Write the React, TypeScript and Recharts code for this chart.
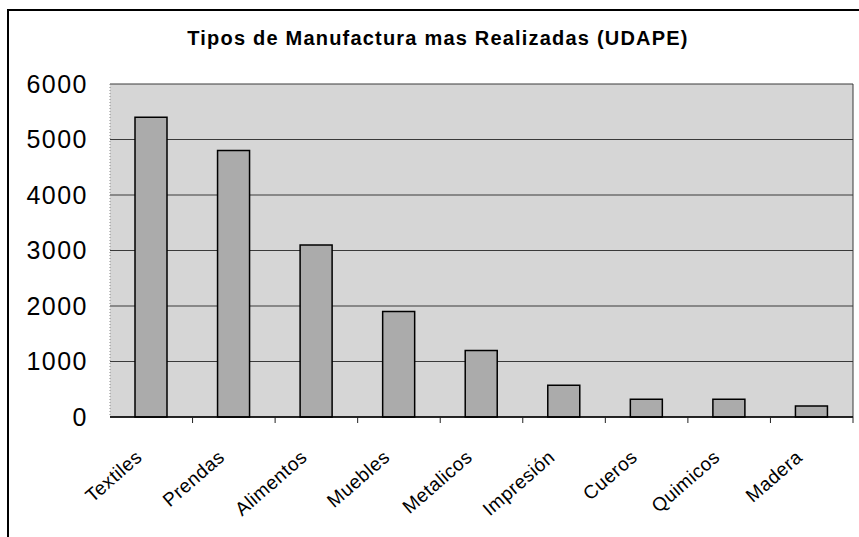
import { BarChart, Bar, XAxis, YAxis, CartesianGrid } from 'recharts'

const categories = ['Textiles', 'Prendas', 'Alimentos', 'Muebles', 'Metalicos', 'Impresión', 'Cueros', 'Quimicos', 'Madera']
const values = [5400, 4800, 3100, 1900, 1200, 570, 320, 320, 200]
const yTicks = [0, 1000, 2000, 3000, 4000, 5000, 6000]

const data = categories.map((name, i) => ({ name, value: values[i] }))

const W = 859
const H = 537
const M = { top: 84, right: 6, bottom: 0, left: 0 }
const X_H = 120
const Y_W = 110
const BAND = (W - M.left - M.right - Y_W) / categories.length
const FONT = 'Liberation Sans, Arial, sans-serif'

// excel style: tick marks sit between categories, labels slanted
const XTick = (props: any) => {
  const { x, y, payload } = props
  const tx = x - 8
  const ty = y + 42
  return (
    <g>
      <line x1={x + BAND / 2} x2={x + BAND / 2} y1={y} y2={y + 6} stroke="#222" strokeWidth={1} />
      <text
        x={tx}
        y={ty}
        transform={`rotate(-41, ${tx}, ${ty})`}
        textAnchor="end"
        fontSize={19}
        fontFamily={FONT}
        fill="#000"
        letterSpacing={0.5}
      >
        {payload.value}
      </text>
    </g>
  )
}

export default function App() {
  return (
    <div style={{ position: 'absolute', left: 0, top: 0, width: W, height: H, background: '#fff', overflow: 'hidden' }}>
      <div
        style={{
          position: 'absolute',
          left: 7,
          top: 9,
          width: W,
          height: H,
          borderLeft: '2px solid #000',
          borderTop: '2px solid #000',
        }}
      />
      <div
        style={{
          position: 'absolute',
          left: 17,
          top: 27,
          width: 842,
          textAlign: 'center',
          fontFamily: FONT,
          fontWeight: 'bold',
          fontSize: 20,
          lineHeight: '22px',
          letterSpacing: 1.2,
          color: '#000',
        }}
      >
        Tipos de Manufactura mas Realizadas (UDAPE)
      </div>
      <div style={{ position: 'absolute', left: 0, top: 0 }}>
        <BarChart width={W} height={H} data={data} margin={M} barSize={32}>
          <CartesianGrid
            fill="#d6d6d6"
            fillOpacity={1}
            stroke="#3a3a3a"
            strokeWidth={1}
            verticalCoordinatesGenerator={({ offset }: any) => [offset.left + offset.width]}
          />
          <XAxis
            dataKey="name"
            interval={0}
            tickLine={false}
            tickSize={0}
            tickMargin={0}
            axisLine={{ stroke: '#000', strokeWidth: 1.5 }}
            tick={<XTick />}
            height={X_H}
          />
          <YAxis
            width={Y_W}
            domain={[0, 6000]}
            ticks={yTicks}
            interval={0}
            axisLine={{ stroke: '#888', strokeDasharray: '1 2' }}
            tickLine={false}
            tickSize={0}
            tickMargin={22}
            tick={{ fontSize: 25, fontFamily: FONT, fill: '#000', letterSpacing: 1.5 }}
          />
          <Bar dataKey="value" fill="#ababab" stroke="#000" strokeWidth={1.5} isAnimationActive={false} />
        </BarChart>
      </div>
    </div>
  )
}
